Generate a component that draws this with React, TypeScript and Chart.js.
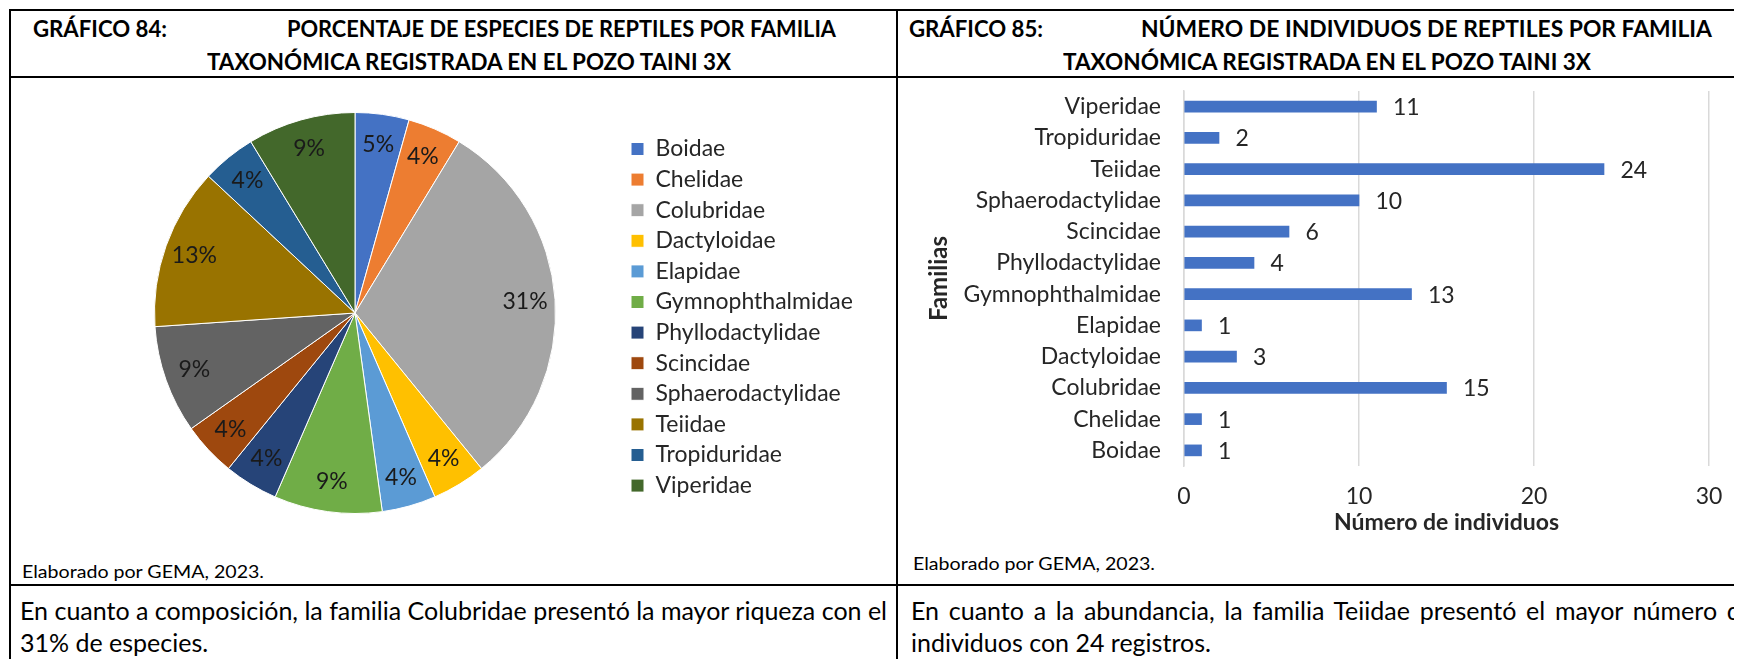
import React, { useEffect, useLayoutEffect, useRef } from "react";
import { Chart, registerables } from "chart.js";
Chart.register(...registerables);

// ---------- data ----------
const families = [
  "Boidae", "Chelidae", "Colubridae", "Dactyloidae", "Elapidae", "Gymnophthalmidae",
  "Phyllodactylidae", "Scincidae", "Sphaerodactylidae", "Teiidae", "Tropiduridae", "Viperidae",
];
const speciesPerFamily = [1, 1, 7, 1, 1, 2, 1, 1, 2, 3, 1, 2];
const speciesPercentLabels = ["5%", "4%", "31%", "4%", "4%", "9%", "4%", "4%", "9%", "13%", "4%", "9%"];
const individualsPerFamily = [1, 1, 15, 3, 1, 13, 4, 6, 10, 24, 2, 11];
const familyColors = [
  "#4472C4", "#ED7D31", "#A5A5A5", "#FFC000", "#5B9BD5", "#70AD47",
  "#264478", "#9E480E", "#636363", "#997300", "#255E91", "#43682B",
];
const individualsAxisMax = 30;
const individualsAxisStep = 10;

const FONT = "Lato, 'Open Sans', sans-serif";
const TEXT = "#262626";
const CHART_FONT = 23;

// ---------- plugins ----------
const pieLabelPlugin = {
  id: "pieLabels",
  afterDatasetsDraw(chart: any) {
    const ctx = chart.ctx;
    const meta = chart.getDatasetMeta(0);
    ctx.save();
    ctx.font = `${CHART_FONT}px ${FONT}`;
    ctx.fillStyle = "#1a1a1a";
    ctx.textAlign = "center";
    ctx.textBaseline = "middle";
    meta.data.forEach((arc: any, i: number) => {
      const p = arc.getProps(["x", "y", "startAngle", "endAngle", "outerRadius"], true);
      const mid = (p.startAngle + p.endAngle) / 2;
      const r = p.outerRadius * 0.85;
      ctx.fillText(speciesPercentLabels[i], p.x + Math.cos(mid) * r, p.y + Math.sin(mid) * r);
    });
    ctx.restore();
  },
};

const barLabelPlugin = {
  id: "barLabels",
  afterDatasetsDraw(chart: any) {
    const ctx = chart.ctx;
    const meta = chart.getDatasetMeta(0);
    ctx.save();
    ctx.font = `${CHART_FONT}px ${FONT}`;
    ctx.fillStyle = TEXT;
    ctx.textAlign = "left";
    ctx.textBaseline = "middle";
    meta.data.forEach((bar: any, i: number) => {
      const p = bar.getProps(["x", "y"], true);
      ctx.fillText(String(individualsPerFamily[i]), p.x + 16.5, p.y + 1);
    });
    ctx.restore();
  },
};

// ---------- helpers ----------
const OFF = 8; // body margin

function FitText(props: { x: number; cy: number; w?: number; size: number; bold?: boolean; text: string }) {
  const ref = useRef<HTMLSpanElement>(null);
  useLayoutEffect(() => {
    const el = ref.current;
    if (!el || !props.w) return;
    el.style.transform = "none";
    const nat = el.getBoundingClientRect().width;
    if (nat > 0) el.style.transform = `scaleX(${props.w / nat})`;
  }, [props.w, props.text]);
  return (
    <span
      ref={ref}
      style={{
        position: "absolute",
        left: props.x - OFF,
        top: props.cy - OFF - props.size * 0.6,
        fontSize: props.size,
        lineHeight: `${props.size * 1.2}px`,
        fontWeight: props.bold ? 700 : 400,
        whiteSpace: "nowrap",
        transformOrigin: "0 0",
        color: "#000",
        fontFamily: FONT,
      }}
    >
      {props.text}
    </span>
  );
}

function JustLine(props: { x: number; cy: number; w: number; size: number; text: string }) {
  return (
    <div
      style={{
        position: "absolute",
        left: props.x - OFF,
        top: props.cy - OFF - props.size * 0.6,
        width: props.w,
        fontSize: props.size,
        lineHeight: `${props.size * 1.2}px`,
        textAlign: "justify",
        textAlignLast: "justify" as any,
        whiteSpace: "nowrap",
        color: "#000",
        fontFamily: FONT,
      }}
    >
      {props.text}
    </div>
  );
}

function Line(props: { x: number; y: number; w: number; h: number }) {
  return (
    <div
      style={{
        position: "absolute",
        left: props.x - OFF,
        top: props.y - OFF,
        width: props.w,
        height: props.h,
        background: "#000",
      }}
    />
  );
}

// ---------- charts ----------
const PIE_CANVAS_LEFT = 20;
const PIE_CANVAS_W = 880;

function PieChart() {
  const ref = useRef<HTMLCanvasElement>(null);
  useEffect(() => {
    const legendPad = 7.6;
    const boxW = 13;
    const mctx = document.createElement("canvas").getContext("2d")!;
    mctx.font = `${CHART_FONT}px ${FONT}`;
    const maxText = Math.max(...families.map((f) => mctx.measureText(f).width));
    const legendW = legendPad + boxW + CHART_FONT / 2 + maxText + 10;
    const legendLeft = 623.4 - PIE_CANVAS_LEFT;
    const padR = Math.max(0, PIE_CANVAS_W - (legendLeft + legendW));
    const padL = 355 - (623.4 - 355) - PIE_CANVAS_LEFT;

    const chart = new Chart(ref.current!, {
      type: "pie",
      data: {
        labels: families,
        datasets: [
          {
            data: speciesPerFamily,
            backgroundColor: familyColors,
            borderColor: "#ffffff",
            borderWidth: 1,
          },
        ],
      },
      options: {
        responsive: false,
        animation: false,
        layout: { padding: { left: padL, right: padR, top: 30, bottom: 30 } },
        plugins: {
          legend: {
            position: "right",
            title: { display: true, text: " ", font: { size: 1 }, padding: { top: 0, bottom: 7.4 } },
            labels: {
              boxWidth: boxW,
              boxHeight: 13,
              padding: legendPad,
              color: TEXT,
              font: { family: FONT, size: CHART_FONT },
            },
          },
          tooltip: { enabled: false },
        },
      } as any,
      plugins: [pieLabelPlugin],
    });
    return () => chart.destroy();
  }, []);
  return (
    <canvas
      ref={ref}
      width={PIE_CANVAS_W}
      height={462}
      style={{ position: "absolute", left: PIE_CANVAS_LEFT - OFF, top: 82 - OFF, width: PIE_CANVAS_W, height: 462 }}
    />
  );
}

function BarChart() {
  const ref = useRef<HTMLCanvasElement>(null);
  useEffect(() => {
    const font = { family: FONT, size: CHART_FONT };
    const chart = new Chart(ref.current!, {
      type: "bar",
      data: {
        labels: families,
        datasets: [{ data: individualsPerFamily, backgroundColor: "#4472C4", barThickness: 11 }],
      },
      options: {
        indexAxis: "y",
        responsive: false,
        animation: false,
        layout: { padding: { left: 0, top: 11, right: 51, bottom: 0 } },
        plugins: { legend: { display: false }, tooltip: { enabled: false } },
        scales: {
          x: {
            min: 0,
            max: individualsAxisMax,
            ticks: { stepSize: individualsAxisStep, padding: 17.2, color: TEXT, font },
            grid: { color: "#d9d9d9", lineWidth: 1.5, drawTicks: false },
            border: { display: false },
            title: {
              display: true,
              text: "Número de individuos",
              color: TEXT,
              font: { family: FONT, size: CHART_FONT, weight: "bold" },
              padding: { top: 0, bottom: 8.2 },
            },
            afterFit: (s: any) => {
              s.height = 79;
            },
          },
          y: {
            reverse: true,
            grid: { display: false, drawTicks: false },
            border: { color: "#d9d9d9", width: 1.5 },
            ticks: { padding: 23, color: TEXT, font, autoSkip: false },
            title: {
              display: true,
              text: "Familias",
              color: TEXT,
              font: { family: FONT, size: 24, weight: "bold" },
              padding: { top: 19.6, bottom: 0 },
            },
            afterFit: (s: any) => {
              s.width = 279;
              s.paddingTop = 0;
              s.paddingBottom = 0;
            },
          },
        },
      } as any,
      plugins: [barLabelPlugin],
    });
    return () => chart.destroy();
  }, []);
  return (
    <canvas
      ref={ref}
      width={855}
      height={465}
      style={{ position: "absolute", left: 905 - OFF, top: 80 - OFF, width: 855, height: 465 }}
    />
  );
}

export default function App() {
  return (
    <div
      style={{
        position: "relative",
        width: 1734,
        height: 651,
        overflow: "hidden",
        background: "#fff",
        fontFamily: FONT,
      }}
    >
      {/* table lines */}
      <Line x={9} y={9} w={1800} h={2} />
      <Line x={9} y={9} w={2} h={700} />
      <Line x={9} y={76} w={1800} h={2} />
      <Line x={896} y={9} w={2} h={700} />
      <Line x={9} y={584} w={1800} h={2} />

      {/* titles */}
      <FitText x={33} cy={29} w={134} size={22} bold text="GRÁFICO 84:" />
      <FitText x={287} cy={29} w={549} size={22} bold text="PORCENTAJE DE ESPECIES DE REPTILES POR FAMILIA" />
      <FitText x={207} cy={62} w={524} size={22} bold text="TAXONÓMICA REGISTRADA EN EL POZO TAINI 3X" />
      <FitText x={909} cy={29} w={134} size={22} bold text="GRÁFICO 85:" />
      <FitText x={1141} cy={29} w={571} size={22} bold text="NÚMERO DE INDIVIDUOS DE REPTILES POR FAMILIA" />
      <FitText x={1063} cy={62} w={528} size={22} bold text="TAXONÓMICA REGISTRADA EN EL POZO TAINI 3X" />

      <PieChart />
      <BarChart />

      {/* sources */}
      <FitText x={22} cy={572} w={242} size={18} text="Elaborado por GEMA, 2023." />
      <FitText x={913} cy={564} w={242} size={18} text="Elaborado por GEMA, 2023." />

      {/* comments */}
      <JustLine x={20} cy={610} w={864} size={25} text="En cuanto a composición, la familia Colubridae presentó la mayor riqueza con el" />
      <FitText x={20} cy={642} size={25} text="31% de especies." />
      <JustLine x={911} cy={610} w={843} size={25} text="En cuanto a la abundancia, la familia Teiidae presentó el mayor número de" />
      <FitText x={911} cy={642} size={25} text="individuos con 24 registros." />
    </div>
  );
}
